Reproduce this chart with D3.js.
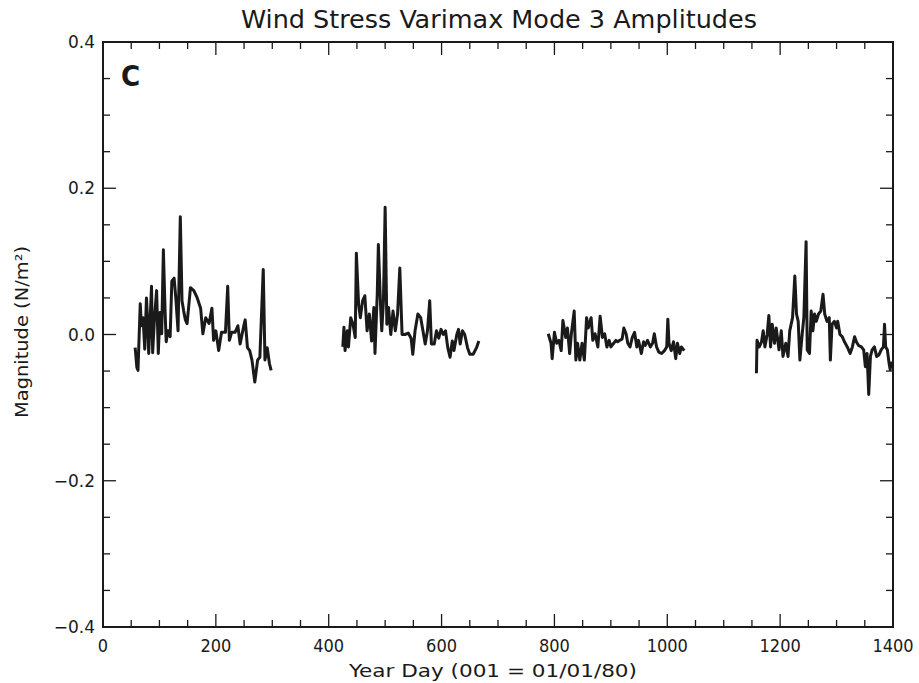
<!DOCTYPE html>
<html><head><meta charset="utf-8">
<script src="https://cdn.jsdelivr.net/npm/d3@7"></script>
<style>body{margin:0;background:#fff}svg{display:block}</style>
</head><body>
<script>
const title = "Wind Stress Varimax Mode 3 Amplitudes";
const xLabel = "Year Day (001 = 01/01/80)";
const yLabel = "Magnitude (N/m²)";
const panelLabel = "C";
const xTicks = [0,200,400,600,800,1000,1200,1400];
const yTicks = [-0.4,-0.2,0.0,0.2,0.4];
const yTickLabels = ["\u22120.4","\u22120.2","0.0","0.2","0.4"];

const seg1Days = [57,60,62,66,68,71,74,77,79,81,86,88,91,95,98,101,104,107,110,112,115,119,122,126,129,133,137,140,143,146,149,155,161,167,173,177,182,188,193,196,200,205,210,217,221,224,228,234,239,243,249,252,256,260,264,269,274,278,284,287,291,295,298];
const seg1Vals = [-0.018,-0.045,-0.049,0.042,0.012,0.023,-0.02,0.05,0.02,-0.026,0.066,-0.025,0.019,0.06,-0.026,0.03,0.001,0.116,0.032,-0.01,0.005,-0.003,0.073,0.077,0.05,0.005,0.161,0.046,0.032,0.02,0.015,0.064,0.06,0.05,0.036,0.001,0.023,0.015,0.036,-0.008,0.005,-0.022,0.003,0.003,0.066,-0.008,0.003,0.003,0.012,-0.013,0.01,0.02,-0.018,-0.022,-0.035,-0.065,-0.035,-0.031,0.089,-0.035,-0.018,-0.04,-0.049];

const seg2Days = [425,427,429,433,435,439,443,447,449,453,456,460,464,468,472,476,480,482,486,488,492,494,497,500,503,506,510,514,518,522,526,530,535,541,546,549,553,558,563,567,571,575,579,582,587,591,595,599,603,607,611,615,619,622,627,630,633,637,641,646,650,656,662,666];
const seg2Vals = [-0.017,0.01,-0.022,0.005,-0.017,0.023,0.014,-0.004,0.111,0.041,0.023,0.046,0.053,0.005,0.028,-0.009,0.037,-0.026,0.055,0.123,0.037,0.005,0.046,0.174,0.014,0.037,0.0,0.032,0.005,0.028,0.091,0.0,0.0,0.002,-0.005,-0.027,0.005,0.028,0.023,0.005,-0.013,0.005,0.046,-0.013,-0.013,0.005,-0.005,0.007,0.0,0.005,-0.018,-0.031,-0.009,-0.022,0.0,0.007,-0.013,0.005,0.0,-0.018,-0.027,-0.027,-0.018,-0.009];

const seg3Days = [789,794,796,800,804,808,812,815,820,823,827,830,835,838,841,845,849,853,857,860,865,868,872,877,881,885,889,893,897,900,905,909,912,916,920,923,927,930,934,938,942,946,949,954,958,961,965,970,974,977,981,985,990,995,999,1001,1003,1007,1011,1015,1018,1022,1025,1030];
const seg3Vals = [0.001,-0.012,-0.033,0.003,-0.012,-0.008,-0.022,0.019,-0.004,0.009,-0.026,0.001,0.032,-0.035,-0.012,-0.035,-0.012,-0.035,0.023,0.009,0.023,-0.008,0.001,-0.017,0.025,-0.004,0.001,-0.017,-0.008,-0.017,-0.012,-0.008,-0.01,-0.008,-0.006,0.009,0.001,-0.012,-0.017,-0.004,0.003,-0.017,-0.008,-0.026,-0.01,-0.015,-0.008,-0.017,-0.012,0.001,-0.017,-0.024,-0.026,-0.022,-0.017,0.021,-0.012,-0.022,-0.01,-0.033,-0.012,-0.026,-0.017,-0.022];

const seg4Days = [1158,1159,1163,1167,1170,1173,1177,1180,1183,1186,1190,1193,1198,1202,1205,1210,1214,1217,1222,1226,1229,1232,1235,1239,1242,1246,1248,1252,1255,1258,1261,1264,1268,1272,1276,1279,1283,1287,1289,1292,1296,1300,1302,1306,1310,1314,1319,1324,1328,1332,1335,1339,1344,1348,1351,1354,1357,1360,1363,1367,1371,1375,1379,1383,1385,1387,1390,1393,1395,1397,1399];
const seg4Vals = [-0.053,-0.008,-0.017,-0.01,0.005,-0.017,0.0,0.026,-0.017,0.014,-0.012,0.009,-0.021,0.005,-0.03,-0.012,-0.03,0.005,0.023,0.08,0.028,0.018,-0.035,0.0,0.023,0.127,-0.021,-0.026,0.032,0.005,0.028,0.018,0.028,0.032,0.055,0.028,0.018,0.023,-0.035,0.014,0.018,0.009,0.018,0.0,-0.003,-0.01,-0.017,-0.026,-0.017,-0.003,-0.01,-0.015,-0.017,-0.021,-0.044,-0.026,-0.082,-0.03,-0.021,-0.017,-0.03,-0.028,-0.021,-0.017,0.014,-0.017,-0.021,-0.039,-0.048,-0.039,-0.046];

const segments = [[seg1Days,seg1Vals],[seg2Days,seg2Vals],[seg3Days,seg3Vals],[seg4Days,seg4Vals]];

const W = 919, H = 683;
const m = {left:103, right:26, top:42, bottom:56};
const svg = d3.select("body").append("svg").attr("width",W).attr("height",H);
const x = d3.scaleLinear().domain([0,1400]).range([m.left, W-m.right]);
const y = d3.scaleLinear().domain([-0.4,0.4]).range([H-m.bottom, m.top]);
const font = "'DejaVu Sans Condensed','Liberation Sans Narrow',Arial,sans-serif";
const ink = "#1a1a1a";

const xMinor = d3.range(0,1401,50);
const yMinor = d3.range(-0.4,0.4001,0.05);
const g = svg.append("g").attr("stroke",ink).attr("stroke-width",1.3);
xMinor.forEach(v=>{
  const major = Math.abs(v%200)<1e-6;
  const L = major?13:7;
  g.append("line").attr("x1",x(v)).attr("x2",x(v)).attr("y1",y(-0.4)).attr("y2",y(-0.4)-L);
  g.append("line").attr("x1",x(v)).attr("x2",x(v)).attr("y1",y(0.4)).attr("y2",y(0.4)+L);
});
yMinor.forEach(v=>{
  const major = Math.abs(Math.round(v*100)%20)<1e-6;
  const L = major?13:7;
  g.append("line").attr("y1",y(v)).attr("y2",y(v)).attr("x1",x(0)).attr("x2",x(0)+L);
  g.append("line").attr("y1",y(v)).attr("y2",y(v)).attr("x1",x(1400)).attr("x2",x(1400)-L);
});

svg.append("rect").attr("x",x(0)).attr("y",y(0.4)).attr("width",x(1400)-x(0)).attr("height",y(-0.4)-y(0.4))
  .attr("fill","none").attr("stroke",ink).attr("stroke-width",2);

svg.append("g").selectAll("text").data(xTicks).join("text")
  .attr("x",d=>x(d)).attr("y",y(-0.4)+25).attr("text-anchor","middle")
  .attr("font-family",font).attr("font-size",18).attr("fill",ink).text(d=>d);
svg.append("g").selectAll("text").data(yTicks).join("text")
  .attr("x",x(0)-8).attr("y",d=>y(d)+6).attr("text-anchor","end")
  .attr("font-family","'DejaVu Sans',sans-serif").attr("font-size",17).attr("fill",ink)
  .text((d,i)=>yTickLabels[i]);

svg.append("text").attr("x",499).attr("y",28).attr("text-anchor","middle")
  .attr("font-family",font).attr("font-size",25).attr("fill",ink)
  .attr("textLength",516).attr("lengthAdjust","spacingAndGlyphs").text(title);
svg.append("text").attr("x",493).attr("y",677).attr("text-anchor","middle")
  .attr("font-family",font).attr("font-size",18).attr("fill",ink)
  .attr("textLength",288).attr("lengthAdjust","spacingAndGlyphs").text(xLabel);
svg.append("text").attr("transform","translate(28,332) rotate(-90)").attr("text-anchor","middle")
  .attr("font-family","'DejaVu Sans',sans-serif").attr("font-size",17).attr("fill",ink)
  .attr("textLength",172).attr("lengthAdjust","spacingAndGlyphs").text(yLabel);
svg.append("text").attr("x",121).attr("y",86).attr("font-family","'DejaVu Sans Condensed','DejaVu Sans',sans-serif")
  .attr("font-weight","bold").attr("font-size",29).attr("fill",ink).text(panelLabel);

const line = d3.line().x(d=>x(d[0])).y(d=>y(d[1]));
segments.forEach(([days,vals])=>{
  svg.append("path").datum(days.map((d,i)=>[d,vals[i]]))
    .attr("d",line).attr("fill","none").attr("stroke",ink).attr("stroke-width",3)
    .attr("stroke-linejoin","round");
});
</script>
</body></html>
